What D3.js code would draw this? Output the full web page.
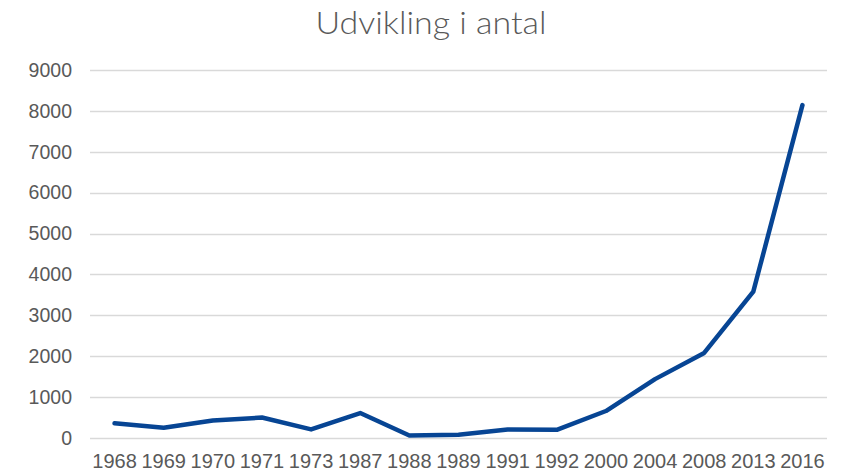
<!DOCTYPE html>
<html>
<head>
<meta charset="utf-8">
<script src="https://cdn.jsdelivr.net/npm/d3@7"></script>
<style>
  html, body { margin: 0; padding: 0; background: #fff; }
  svg { display: block; }
</style>
</head>
<body>
<svg id="chart"></svg>
<script>
// Data
const years = ['1968', '1969', '1970', '1971', '1973', '1987', '1988', '1989',
               '1991', '1992', '2000', '2004', '2008', '2013', '2016'];
const counts = [360, 250, 430, 500, 210, 610, 60, 80, 210, 200, 660, 1440, 2080, 3580, 8140];
const yTicks = [0, 1000, 2000, 3000, 4000, 5000, 6000, 7000, 8000, 9000];

const width = 843, height = 476;
const margin = { top: 70, right: 16, bottom: 38, left: 90 };

const svg = d3.select('#chart')
    .attr('width', width)
    .attr('height', height);

const x = d3.scaleBand()
    .domain(years)
    .range([margin.left, width - margin.right]);

const y = d3.scaleLinear()
    .domain([0, 9000])
    .range([height - margin.bottom, margin.top]);

// Title
svg.append('text')
    .attr('x', 431)
    .attr('y', 34)
    .attr('text-anchor', 'middle')
    .attr('fill', '#595959')
    .attr('font-family', 'Lato, sans-serif')
    .attr('font-weight', 300)
    .attr('font-size', '31px')
    .attr('textLength', 231)
    .attr('lengthAdjust', 'spacingAndGlyphs')
    .text('Udvikling i antal');

// Gridlines
svg.append('g')
    .selectAll('line')
    .data(yTicks)
    .enter()
    .append('line')
    .attr('x1', margin.left)
    .attr('x2', width - margin.right)
    .attr('y1', d => Math.round(y(d)) + 0.5)
    .attr('y2', d => Math.round(y(d)) + 0.5)
    .attr('stroke', '#d9d9d9')
    .attr('stroke-width', 1.3);

// Y axis labels
const yAxis = svg.append('g')
    .attr('transform', `translate(${margin.left - 18},0)`)
    .call(d3.axisLeft(y).tickValues(yTicks).tickSize(0).tickPadding(0).tickFormat(d3.format('d')));
yAxis.select('.domain').remove();
yAxis.selectAll('text')
    .attr('fill', '#595959')
    .attr('font-family', 'Liberation Sans, Arial, sans-serif')
    .attr('font-size', '19.5px');

// X axis labels
const xAxis = svg.append('g')
    .attr('transform', `translate(0,${height - margin.bottom})`)
    .call(d3.axisBottom(x).tickSize(0).tickPadding(16));
xAxis.select('.domain').remove();
xAxis.selectAll('text')
    .attr('fill', '#595959')
    .attr('font-family', 'Liberation Sans, Arial, sans-serif')
    .attr('font-size', '20px');

// Line
const line = d3.line()
    .x((d, i) => x(years[i]) + x.bandwidth() / 2)
    .y(d => y(d));

svg.append('path')
    .datum(counts)
    .attr('fill', 'none')
    .attr('stroke', '#074594')
    .attr('stroke-width', 4.5)
    .attr('stroke-linejoin', 'round')
    .attr('stroke-linecap', 'round')
    .attr('d', line);
</script>
</body>
</html>
